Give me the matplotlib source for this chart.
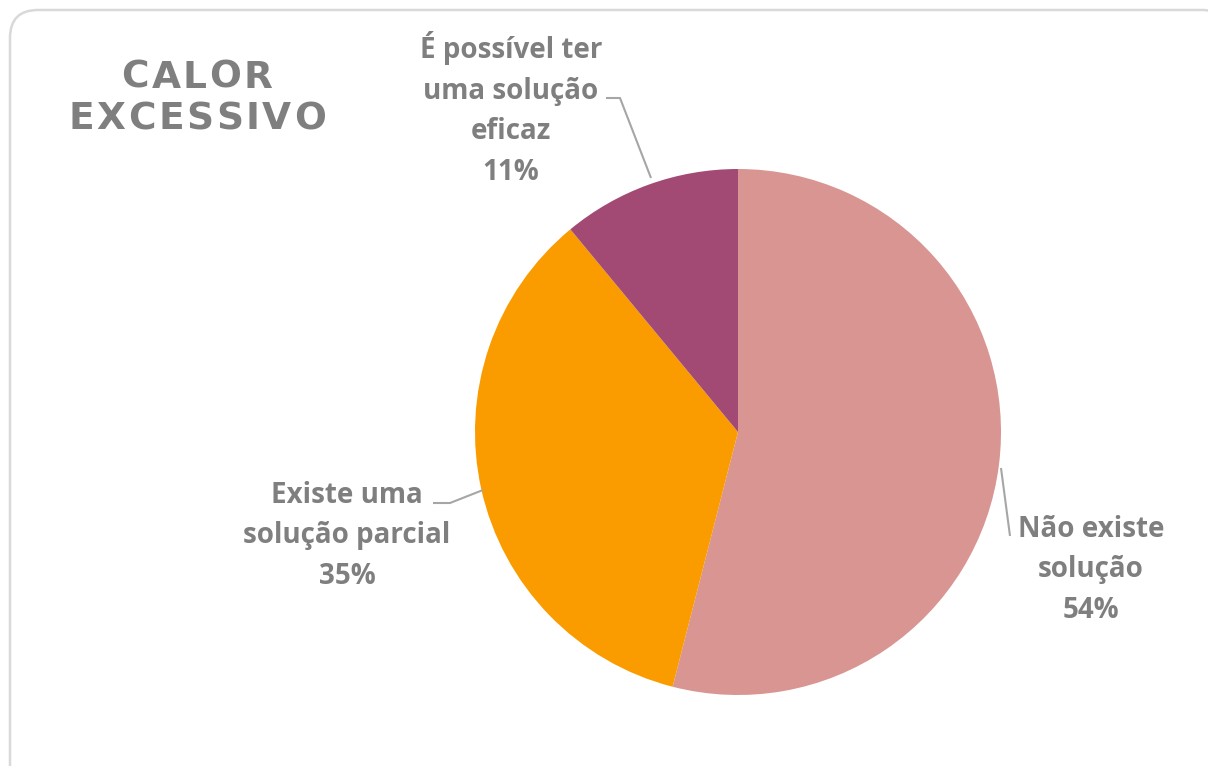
import matplotlib
matplotlib.use("Agg")
import matplotlib.pyplot as plt
from matplotlib.patches import FancyBboxPatch

# ------------------------------------------------------------
# DATA
# ------------------------------------------------------------
categories = ["Não existe\nsolução", "Existe uma\nsolução parcial", "É possível ter\numa solução\neficaz"]
values = [54, 35, 11]
colors = ["#D89592", "#FA9B00", "#A34A74"]
title_lines = ["CALOR", "EXCESSIVO"]

W, H = 1208, 766
GREY = "#7F7F7F"
LABEL_FONT = ["Open Sans", "DejaVu Sans"]

fig = plt.figure(figsize=(W / 100, H / 100), dpi=100)
fig.patch.set_facecolor("white")
ax = fig.add_axes([0, 0, 1, 1])

# outer rounded frame (data = pixels, y up)
frame = FancyBboxPatch((10, -40), 1220, H - 10 + 40,
                       boxstyle="round,pad=0,rounding_size=28",
                       fc="white", ec="#D9D9D9", lw=1.8, zorder=0)
ax.add_patch(frame)

wedges, _ = ax.pie(values, colors=colors, startangle=90, counterclock=False,
                   center=(738, H - 432), radius=263,
                   wedgeprops=dict(linewidth=0))
ax.set_xlim(0, W)
ax.set_ylim(0, H)
ax.axis("off")

# data labels
label_pos = [(1091, 570), (347, 536), (511, 109)]
for name, v, (x, y) in zip(categories, values, label_pos):
    ax.text(x, H - y, f"{name}\n{v}%", ha="center", va="center",
            fontsize=20, fontweight="bold", color=GREY, family=LABEL_FONT,
            linespacing=1.52)

# leader lines
leaders = [
    [(1001, 468), (1010, 536)],
    [(433, 503), (450, 503), (483, 490)],
    [(606, 98), (620, 98), (651, 178)],
]
for pts in leaders:
    ax.plot([p[0] for p in pts], [H - p[1] for p in pts],
            color="#A6A6A6", lw=1.5, solid_capstyle="butt")

# title with letter spacing
renderer = fig.canvas.get_renderer()


def make_letters(s, y):
    objs, widths = [], []
    for ch in s:
        t = ax.text(0, H - y, ch, ha="left", va="center", fontsize=27,
                    fontweight="bold", color=GREY, family="DejaVu Sans")
        objs.append(t)
        widths.append(t.get_window_extent(renderer).width)
    return objs, widths


def place(objs, widths, cx, gap):
    total = sum(widths) + gap * (len(objs) - 1)
    x = cx - total / 2
    for t, w in zip(objs, widths):
        t.set_x(x)
        x += w + gap


line1 = make_letters(title_lines[0], 78)
line2 = make_letters(title_lines[1], 119)
# spread the long line to its width in the reference, reuse the gap
gap = (257 - sum(line2[1])) / (len(title_lines[1]) - 1)
place(*line1, 197, gap)
place(*line2, 197, gap)

plt.savefig("out.png", dpi=100, facecolor="white")
